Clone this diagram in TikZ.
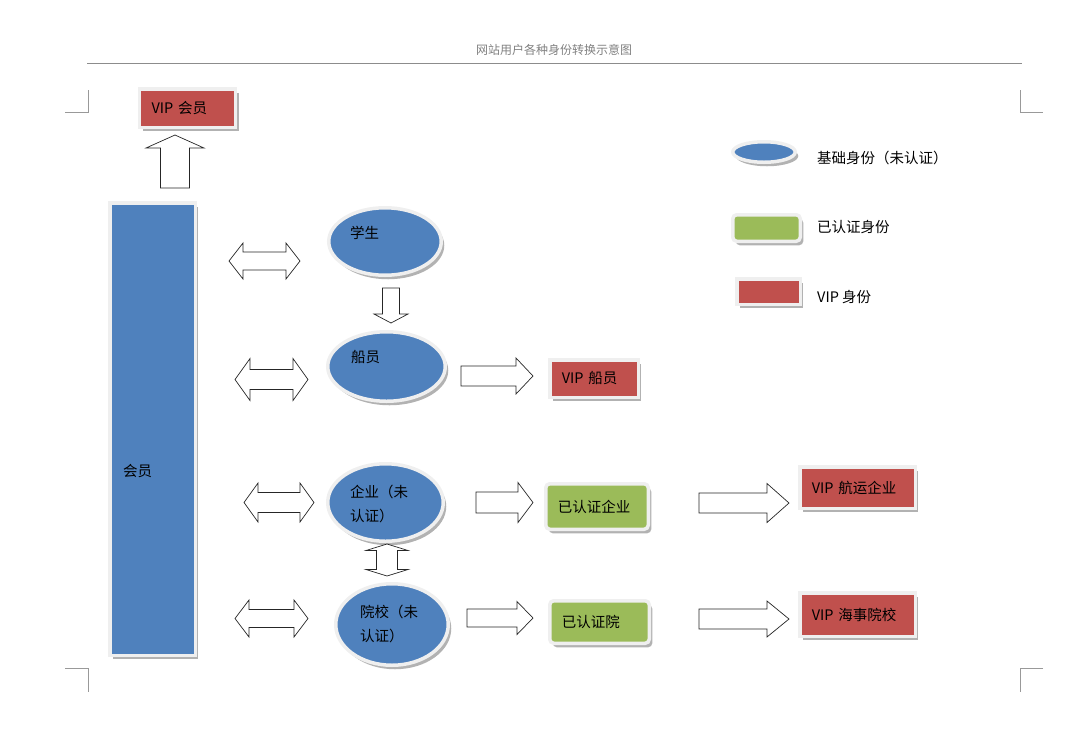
\documentclass[tikz,border=0pt]{standalone}
\usepackage{fontspec}
\setmainfont{Noto Sans CJK SC}
\usetikzlibrary{shapes.geometric, shadows}

\definecolor{idblue}{HTML}{4F81BD}
\definecolor{idgreen}{HTML}{9BBB59}
\definecolor{idred}{HTML}{C0504D}
\definecolor{rim}{HTML}{EFEFEF}

\tikzset{
  pics/onearrow/.style n args={4}{code={
    \draw[blk] (0,-#2) -- ({#1-#4},-#2) -- ({#1-#4},-#3) -- (#1,0)
      -- ({#1-#4},#3) -- ({#1-#4},#2) -- (0,#2) -- cycle;}},
  pics/twoarrow/.style n args={4}{code={
    \draw[blk] (0,0) -- (#4,-#3) -- (#4,-#2) -- ({#1-#4},-#2) -- ({#1-#4},-#3)
      -- (#1,0) -- ({#1-#4},#3) -- ({#1-#4},#2) -- (#4,#2) -- (#4,#3) -- cycle;}}
}

\begin{document}
\begin{tikzpicture}[x=1pt, y=-1pt,
  blk/.style={draw=black!85, fill=white, line width=.7pt},
  dshadow/.style={drop shadow={shadow xshift=3pt, shadow yshift=-4pt, fill=black, opacity=.3}},
  vip/.style={draw=rim, line width=3.5pt, fill=idred, dshadow, inner sep=0pt, align=left, font=\fontsize{14.5}{24}\selectfont},
  ok/.style={vip, fill=idgreen, rounded corners=4pt},
  basic/.style={ellipse, draw=rim, line width=3.5pt, fill=idblue, dshadow, inner sep=0pt},
  lbl/.style={anchor=west, align=left, inner sep=0pt, font=\fontsize{14.5}{24}\selectfont},
  cropmark/.style={draw=gray!80, line width=.8pt}]
\useasboundingbox (0,0) rectangle (1077,732);

% page header and corner marks
\node[font=\fontsize{12}{14}\selectfont, text=gray] (title) at (554,50) {网站用户各种身份转换示意图};
\draw[gray!90, line width=.8pt] (87,63) -- (1022,63);
\draw[cropmark] (88,90) -- (88,112) -- (65,112);
\draw[cropmark] (1020,90) -- (1020,112) -- (1043,112);
\draw[cropmark] (65,668) -- (88,668) -- (88,692);
\draw[cropmark] (1043,668) -- (1020,668) -- (1020,692);

% member column
\node[vip, text width=72pt, minimum width=96, minimum height=38.5] (vipmember) at (187.5,108) {VIP 会员};
\node[vip, fill=idblue, minimum width=85.5, minimum height=452.5] (member) at (152.5,429) {};
\node[lbl] (t-member) at (123,471) {会员};
\pic[rotate=90] at (175,188) {onearrow={53}{14.5}{29}{13}};

% basic identities
\node[basic, minimum width=112.5, minimum height=67.5] (student) at (385,241.5) {};
\node[lbl] (t-student) at (350,233) {学生};
\node[basic, minimum width=117.5, minimum height=69.5] (seaman) at (386.5,366.5) {};
\node[lbl] (t-seaman) at (351,357) {船员};
\node[basic, minimum width=115.5, minimum height=77.5] (company) at (385.5,502.5) {};
\node[lbl] (t-company) at (350,503.5) {企业（未\\认证）};
\node[basic, minimum width=112.5, minimum height=81.5] (school) at (392,624.5) {};
\node[lbl] (t-school) at (360,623.5) {院校（未\\认证）};

\pic at (229,261) {twoarrow={71}{9}{18}{14}};
\pic at (235,379.5) {twoarrow={73}{10}{21}{15}};
\pic at (244,502.5) {twoarrow={70}{10}{19.5}{14}};
\pic at (235,618.5) {twoarrow={73}{9}{18.5}{14}};
\pic[rotate=-90] at (391,288) {onearrow={35}{8.5}{17}{9}};
\pic[rotate=-90] at (387,544) {twoarrow={32}{10.5}{21}{6.5}};

% verified and VIP identities
\node[vip, text width=64.5pt, minimum width=88.5, minimum height=37.5] (vipseaman) at (594,378.5) {VIP 船员};
\node[ok, text width=78.5pt, minimum width=102.5, minimum height=45.5] (okcompany) at (597,506.5) {已认证企业};
\node[ok, text width=75.5pt, minimum width=99.5, minimum height=42.5] (okschool) at (599.5,622) {已认证院};
\node[vip, text width=91.5pt, minimum width=115.5, minimum height=41.5] (vipcompany) at (857.5,487.5) {VIP 航运企业};
\node[vip, text width=91.5pt, minimum width=115.5, minimum height=43.5] (vipschool) at (857.5,614.5) {VIP 海事院校};

\pic at (461,376) {onearrow={72}{10}{18}{17}};
\pic at (476,502.5) {onearrow={57}{10.5}{20}{15}};
\pic at (467,618) {onearrow={66}{9}{16.5}{16}};
\pic at (699,503) {onearrow={90}{10}{19.5}{22}};
\pic at (699,619) {onearrow={90}{10}{18}{22}};

% legend
\node[basic, minimum width=62.5, minimum height=20.5] (key1) at (764,152) {};
\node[lbl] (t-key1) at (817,158) {基础身份（未认证）};
\node[ok, minimum width=67.5, minimum height=26.5] (key2) at (766.5,228) {};
\node[lbl] (t-key2) at (817,227) {已认证身份};
\node[vip, minimum width=63.5, minimum height=25.5] (key3) at (768.5,291.5) {};
\node[lbl] (t-key3) at (817,297) {VIP 身份};
\end{tikzpicture}
\end{document}
